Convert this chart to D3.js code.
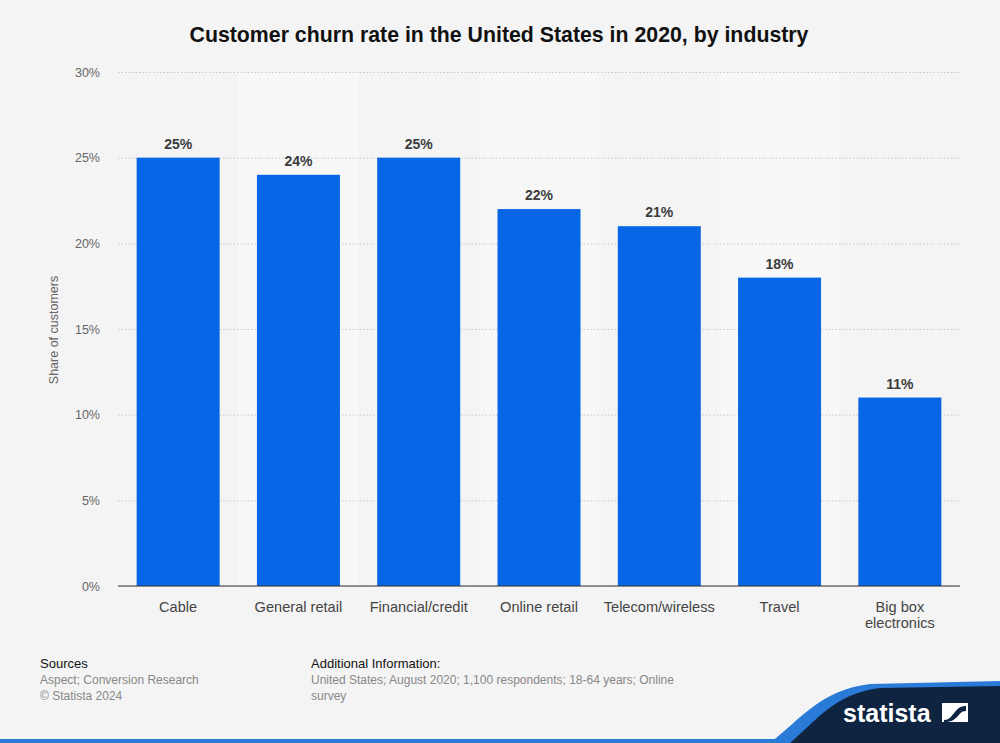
<!DOCTYPE html>
<html><head><meta charset="utf-8">
<script src="https://cdn.jsdelivr.net/npm/d3@7"></script>
<style>body{margin:0;background:#f4f4f4;font-family:"Liberation Sans",Arial,sans-serif}</style>
</head><body>
<svg id="c" width="1000" height="743"></svg>
<script>
const categories = ["Cable","General retail","Financial/credit","Online retail","Telecom/wireless","Travel","Big box electronics"];
const values = [25,24,25,22,21,18,11];
const yTicks = [0,5,10,15,20,25,30];

const svg = d3.select("#c");
const W=1000,H=743;
svg.append("rect").attr("width",W).attr("height",H).attr("fill","#f4f4f4");

const x = d3.scaleBand().domain(categories).range([118,960]).paddingInner(0.31).paddingOuter(0.155);
const y = d3.scaleLinear().domain([0,30]).range([586,72]);
const step = x.step();

// alternating column shading
svg.append("g").selectAll("rect").data(categories.filter((d,i)=>i%2===1)).join("rect")
  .attr("x",d=>x(d)-x.paddingInner()*step/2).attr("width",step)
  .attr("y",y(30)).attr("height",y(0)-y(30)).attr("fill","#f7f7f7");

svg.append("text").attr("x",499).attr("y",42).attr("text-anchor","middle")
  .attr("font-size",21.3).attr("font-weight","bold").attr("fill","#111")
  .text("Customer churn rate in the United States in 2020, by industry");

// grid
const yAxis = d3.axisLeft(y).tickValues(yTicks).tickFormat(d=>d+"%").tickSize(-(960-118)).tickPadding(18);
const gy = svg.append("g").attr("transform","translate(118,0)").call(yAxis);
gy.select(".domain").remove();
gy.selectAll(".tick line").attr("stroke","#c8c8c8").attr("stroke-dasharray","1.5,2");
gy.selectAll(".tick text").attr("fill","#666").attr("font-size",12.5).attr("font-family","Liberation Sans, Arial, sans-serif");

svg.append("text").attr("transform","translate(58,330) rotate(-90)").attr("text-anchor","middle")
  .attr("font-size",12.5).attr("fill","#666").text("Share of customers");

// bars
svg.append("g").selectAll("rect").data(values).join("rect")
  .attr("x",(d,i)=>x(categories[i])).attr("width",x.bandwidth())
  .attr("y",d=>y(d)).attr("height",d=>y(0)-y(d)).attr("fill","#0766e5");

svg.append("g").selectAll("text").data(values).join("text")
  .attr("x",(d,i)=>x(categories[i])+x.bandwidth()/2).attr("y",d=>y(d)-9)
  .attr("text-anchor","middle").attr("font-size",14).attr("font-weight","bold").attr("fill","#3c3c3c")
  .text(d=>d+"%");

// baseline
svg.append("line").attr("x1",118).attr("x2",960).attr("y1",y(0)).attr("y2",y(0)).attr("stroke","#333").attr("stroke-width",1.2);

// x labels
const xl = svg.append("g").selectAll("text").data(categories).join("text")
  .attr("x",d=>x(d)+x.bandwidth()/2).attr("y",612).attr("text-anchor","middle")
  .attr("font-size",14.6).attr("fill","#444");
xl.each(function(d){
  const t=d3.select(this);
  if(d==="Big box electronics"){
    t.append("tspan").attr("x",x(d)+x.bandwidth()/2).attr("dy",0).text("Big box");
    t.append("tspan").attr("x",x(d)+x.bandwidth()/2).attr("dy",16).text("electronics");
  } else t.text(d);
});

// footer
const f = svg.append("g").attr("font-size",12);
f.append("text").attr("x",40).attr("y",668).attr("font-size",13).attr("fill","#111").text("Sources");
f.append("text").attr("x",40).attr("y",684).attr("fill","#888").text("Aspect; Conversion Research");
f.append("text").attr("x",40).attr("y",700).attr("fill","#888").text("© Statista 2024");
f.append("text").attr("x",311).attr("y",668).attr("font-size",13).attr("fill","#111").text("Additional Information:");
f.append("text").attr("x",311).attr("y",684).attr("fill","#888").text("United States; August 2020; 1,100 respondents; 18-64 years; Online");
f.append("text").attr("x",311).attr("y",700).attr("fill","#888").text("survey");

// bottom band
svg.append("rect").attr("x",0).attr("y",739).attr("width",W).attr("height",4).attr("fill","#2a7ad8");
svg.append("path").attr("d","M770,743 C800,720 820,690 870,684 L1000,681 L1000,743 Z").attr("fill","#2a7ad8");
svg.append("path").attr("d","M790,743 C815,722 835,693 880,688 L1000,686 L1000,743 Z").attr("fill","#0e2440");
svg.append("text").attr("x",843).attr("y",722).attr("font-size",25).attr("font-weight","bold").attr("fill","#fff")
  .attr("font-family","Liberation Sans, Arial, sans-serif").text("statista");
// logo icon
const lg = svg.append("g").attr("transform","translate(942,703)");
lg.append("rect").attr("width",26).attr("height",19).attr("fill","#fff");
lg.append("path").attr("d","M2,17 C8,17 10,12 13,9 C16,5 19,3 24,3 L24,8 C19,8 18,11 15,14 C12,17 9,19 2,19 Z").attr("fill","#0e2440");
</script>
</body></html>
